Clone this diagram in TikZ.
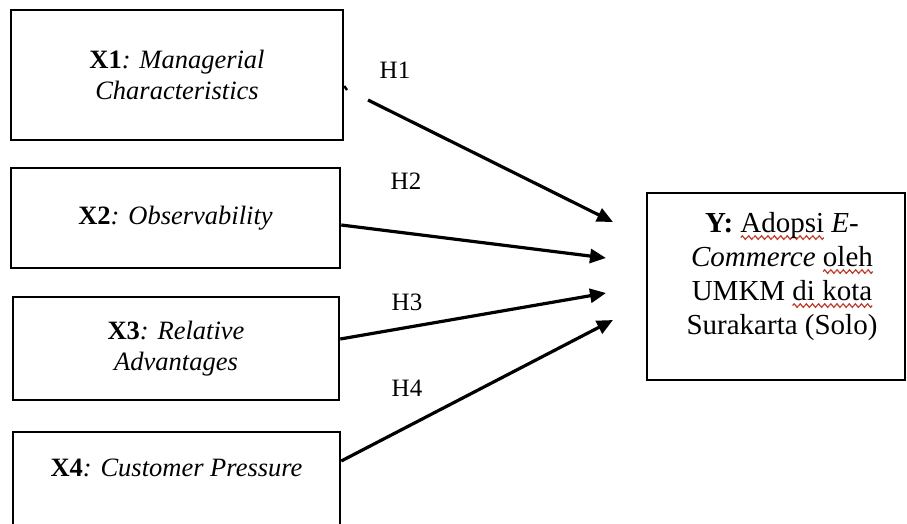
\documentclass[tikz,border=0pt]{standalone}
\usepackage{fontspec}
\setmainfont{Liberation Serif}
\usetikzlibrary{arrows.meta}
\definecolor{squig}{HTML}{C0392B}
\newsavebox\wavebox
\newsavebox\wordbox
\newcommand\wavy[1]{\sbox\wordbox{#1}\rlap{\lower5.5pt\hbox to\wd\wordbox{\xleaders\copy\wavebox\hfil}}\usebox\wordbox}
\newcommand\ind{\hspace*{12pt}}
\begin{document}
\sbox\wavebox{\begin{pgfpicture}
  \pgfpathrectangle{\pgfpoint{0pt}{-2pt}}{\pgfpoint{6pt}{4pt}}
  \pgfusepath{use as bounding box}
  \pgfsetlinewidth{1.2pt}\pgfsetstrokecolor{squig}
  \pgfpathmoveto{\pgfpoint{0pt}{0pt}}
  \pgfpathsine{\pgfpoint{1.5pt}{1.8pt}}
  \pgfpathcosine{\pgfpoint{1.5pt}{-1.8pt}}
  \pgfpathsine{\pgfpoint{1.5pt}{-1.8pt}}
  \pgfpathcosine{\pgfpoint{1.5pt}{1.8pt}}
  \pgfusepath{stroke}
  \pgfsetbaseline{0pt}
\end{pgfpicture}}
\begin{tikzpicture}[x=1pt,y=-1pt,
  box/.style={draw=black,line width=2.5pt,inner sep=0pt,align=center,
    font=\fontsize{26.5}{31}\selectfont},
  link/.style={line width=3.2pt,-{Triangle[length=16pt,width=14pt]}},
  hlabel/.style={font=\fontsize{25}{30}\selectfont,inner sep=0pt}]
\useasboundingbox[fill=white] (0,0) rectangle (907,523);
\node[box,minimum width=332pt,minimum height=130pt] (X1) at (177,75)
  {\textbf{X1}\textit{: Managerial}\\\textit{Characteristics}};
\node[box,minimum width=329pt,minimum height=100pt] (X2) at (175.5,218)
  {\textbf{X2}\textit{: Observability}};
\node[box,minimum width=326pt,minimum height=103pt] (X3) at (176,348.5)
  {\textbf{X3}\textit{: Relative}\\\textit{Advantages}};
\node[box,minimum width=327pt,minimum height=103pt] (X4) at (176.5,483.5)
  {\textbf{X4}\textit{: Customer Pressure}\\\mbox{}};
\node[box,minimum width=258pt,minimum height=187pt,
  font=\fontsize{29}{34}\selectfont] (Y) at (776,286.5)
  {\ind\textbf{Y:} \wavy{Adopsi} \textit{E}-\\\ind\textit{Commerce} \wavy{oleh}\\\ind UMKM \wavy{di kota}\\\ind Surakarta (Solo)\\[-7pt]\mbox{}};
% connector end points
\coordinate (s1) at (368,100);
\coordinate (t1) at (613,222);
\coordinate (s2) at (X2.east |- 0,225);
\coordinate (t2) at (606,258);
\coordinate (s3) at (X3.east |- 0,339);
\coordinate (t3) at (606,293);
\coordinate (s4) at (X4.east |- 0,461);
\coordinate (t4) at (613,320);
\coordinate (k1) at (X1.east |- 0,86);
\coordinate (k2) at (347,90);
\draw[line width=2.4pt] (k1) -- (k2);
\draw[link] (s1) -- (t1);
\draw[link] (s2) -- (t2);
\draw[link] (s3) -- (t3);
\draw[link] (s4) -- (t4);
\node[hlabel] (H1) at (395,70) {H1};
\node[hlabel] (H2) at (406,181) {H2};
\node[hlabel] (H3) at (407,302) {H3};
\node[hlabel] (H4) at (407,388) {H4};
\end{tikzpicture}
\end{document}
